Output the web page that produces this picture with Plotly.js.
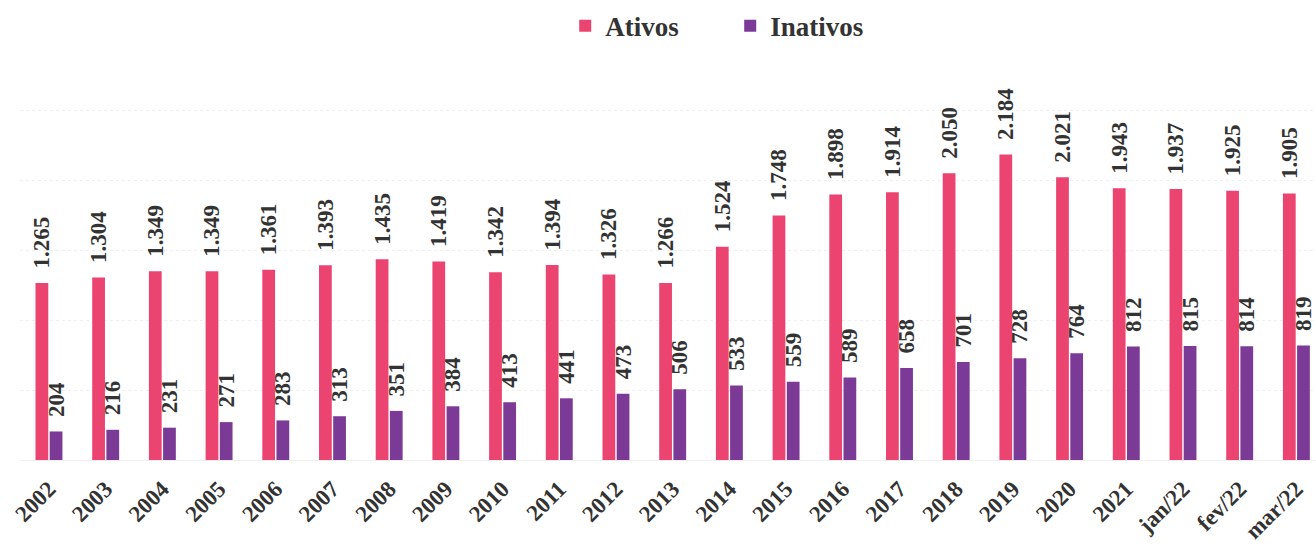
<!DOCTYPE html>
<html><head><meta charset="utf-8">
<script src="https://cdn.plot.ly/plotly-3.0.1.min.js"></script>
<style>body{margin:0;background:#fff}#c{width:1316px;height:548px}</style>
</head><body><div id="c"></div>
<script>
var categories = ['2002','2003','2004','2005','2006','2007','2008','2009','2010','2011','2012','2013','2014','2015','2016','2017','2018','2019','2020','2021','jan/22','fev/22','mar/22'];
var ativos = [1265,1304,1349,1349,1361,1393,1435,1419,1342,1394,1326,1266,1524,1748,1898,1914,2050,2184,2021,1943,1937,1925,1905];
var inativos = [204,216,231,271,283,313,351,384,413,441,473,506,533,559,589,658,701,728,764,812,815,814,819];

var font = {family:'"Liberation Serif", "Times New Roman", serif', color:'#333'};
function tr(name, ys, color){
  return {type:'bar', name:name, x:categories, y:ys, marker:{color:color},
    texttemplate:'\u00a0\u00a0%{y:,.0f}', textposition:'outside', textangle:-90,
    cliponaxis:false,
    textfont:{family:font.family, size:23, color:'#333', weight:'bold'}};
}
var data = [tr('Ativos', ativos, '#EC4470'), tr('Inativos', inativos, '#7B3A96')];
var layout = {
  width:1316, height:548, paper_bgcolor:'#fff', plot_bgcolor:'#fff',
  margin:{l:20, r:0, t:60, b:88},
  separators:',.',
  barmode:'group', bargap:0.5, bargroupgap:0.1,
  uniformtext:{minsize:23, mode:'show'},
  showlegend:true,
  legend:{orientation:'h', x:0.548, xanchor:'center', y:0.997, yref:'container', yanchor:'top',
    font:{family:font.family, size:27, color:'#333', weight:'bold'}, entrywidth:120, itemwidth:20},
  xaxis:{type:'category', range:[-0.511, 22.346], tickangle:-45, showgrid:false, zeroline:false, showline:false,
    ticks:'', ticklabelstandoff:10, tickfont:{family:font.family, size:23, color:'#333', weight:'bold'}},
  yaxis:{range:[0,2860], showticklabels:false, showgrid:true, gridcolor:'#efefef', griddash:'dot', dtick:500, zeroline:true, zerolinecolor:'#efefef', ticks:''}
};
Plotly.newPlot('c', data, layout, {displayModeBar:false, staticPlot:true});
</script></body></html>
